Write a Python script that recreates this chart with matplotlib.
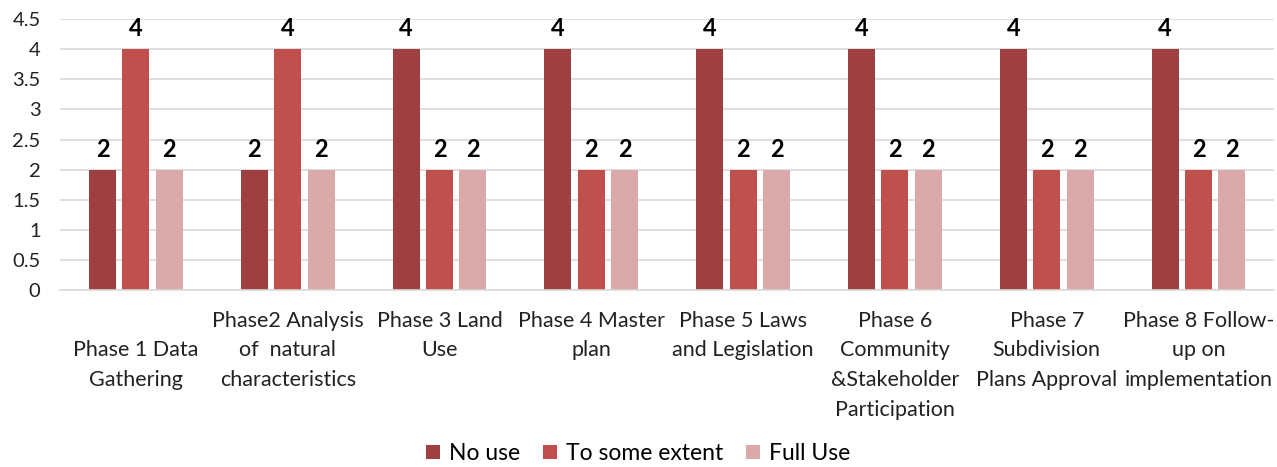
import matplotlib.pyplot as plt
import numpy as np

plt.rcParams['font.family'] = ['Lato', 'DejaVu Sans']

phases = ["\nPhase 1 Data\nGathering",
          "Phase2 Analysis\nof  natural\ncharacteristics",
          "Phase 3 Land\nUse",
          "Phase 4 Master\nplan",
          "Phase 5 Laws\nand Legislation",
          "Phase 6\nCommunity\n&Stakeholder\nParticipation",
          "Phase 7\nSubdivision\nPlans Approval",
          "Phase 8 Follow-\nup on\nimplementation"]
no_use = [2, 2, 4, 4, 4, 4, 4, 4]
some_extent = [4, 4, 2, 2, 2, 2, 2, 2]
full_use = [2, 2, 2, 2, 2, 2, 2, 2]
series_names = ["No use", "To some extent", "Full Use"]
colors = ["#9E4040", "#C0504D", "#DAA9A9"]

fig = plt.figure(figsize=(12.77, 4.67), dpi=100)
ax = fig.add_axes([0.047, 0.379, 0.951, 0.58])

x = np.arange(len(phases))
w = 0.178
step = 0.22
for i, (vals, name, c) in enumerate(zip([no_use, some_extent, full_use], series_names, colors)):
    bars = ax.bar(x + (i - 1) * step, vals, w, color=c, label=name, zorder=2)
    for b, v in zip(bars, vals):
        ax.text(b.get_x() + b.get_width() / 2, v + 0.15, str(v), ha='center', va='bottom',
                fontsize=17, fontweight='bold', color='black')

ax.set_ylim(0, 4.5)
ax.set_xlim(-0.5, len(phases) - 0.5)
ax.set_yticks(np.arange(0, 4.51, 0.5))
ax.set_yticklabels(["0", "0.5", "1", "1.5", "2", "2.5", "3", "3.5", "4", "4.5"])
ax.yaxis.grid(True, color="#D9D9D9", linewidth=1.2, zorder=0)
ax.set_axisbelow(True)
for s in ['top', 'right', 'left']:
    ax.spines[s].set_visible(False)
ax.spines['bottom'].set_color("#D9D9D9")
ax.spines['bottom'].set_linewidth(1.2)
ax.tick_params(axis='y', length=0, labelsize=14.5, pad=14, colors='#222222')
ax.tick_params(axis='x', length=0)
ax.set_xticks(x)
ax.set_xticklabels(phases, fontsize=15.5, va='top', linespacing=1.6, color='#222222')
ax.tick_params(axis='x', pad=15)

fig.legend(loc='lower center', bbox_to_anchor=(0.5, -0.038), ncol=3, frameon=False,
           fontsize=16.5, handlelength=0.6, handleheight=0.6, handletextpad=0.4,
           columnspacing=1.0)

fig.savefig("out.png", dpi=100)
